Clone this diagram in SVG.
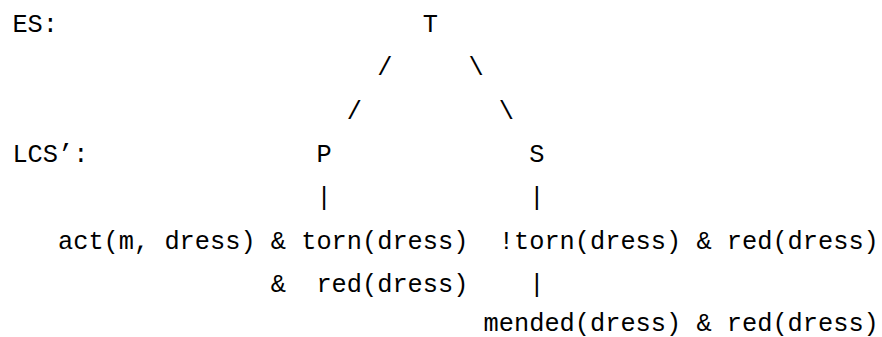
<svg xmlns="http://www.w3.org/2000/svg" width="882" height="337" viewBox="0 0 882 337">
  <style>
    text { font-family: "Liberation Mono", "DejaVu Sans Mono", monospace; font-size: 25.33px; fill: #000; white-space: pre; }
  </style>
  <rect width="882" height="337" fill="#fff"/>
  <g id="label-ES"><text x="12.4" y="32">ES:</text></g>
  <g id="node-T"><text x="422.8" y="32">T</text></g>
  <g id="label-LCS"><text x="12.4" y="162">LCS’:</text></g>
  <g id="node-P"><text x="316.4" y="162">P</text></g>
  <g id="node-S"><text x="529.2" y="162">S</text></g>
  <g id="node-P-formula">
    <text x="58" y="248.6">act(m, dress) &amp; torn(dress)</text>
    <text x="270.8" y="292" xml:space="preserve">&amp;  red(dress)</text>
  </g>
  <g id="node-S-formula"><text x="498.8" y="248.6">!torn(dress) &amp; red(dress)</text></g>
  <g id="node-mended"><text x="483.6" y="330.5">mended(dress) &amp; red(dress)</text></g>
  <g id="connectors">
    <text x="377.2" y="75.3">/</text>
    <text x="468.4" y="75.3">\</text>
    <text x="346.8" y="118.6">/</text>
    <text x="498.8" y="118.6">\</text>
    <text x="316.4" y="205.3">|</text>
    <text x="529.2" y="205.3">|</text>
    <text x="529.2" y="292">|</text>
  </g>
</svg>
